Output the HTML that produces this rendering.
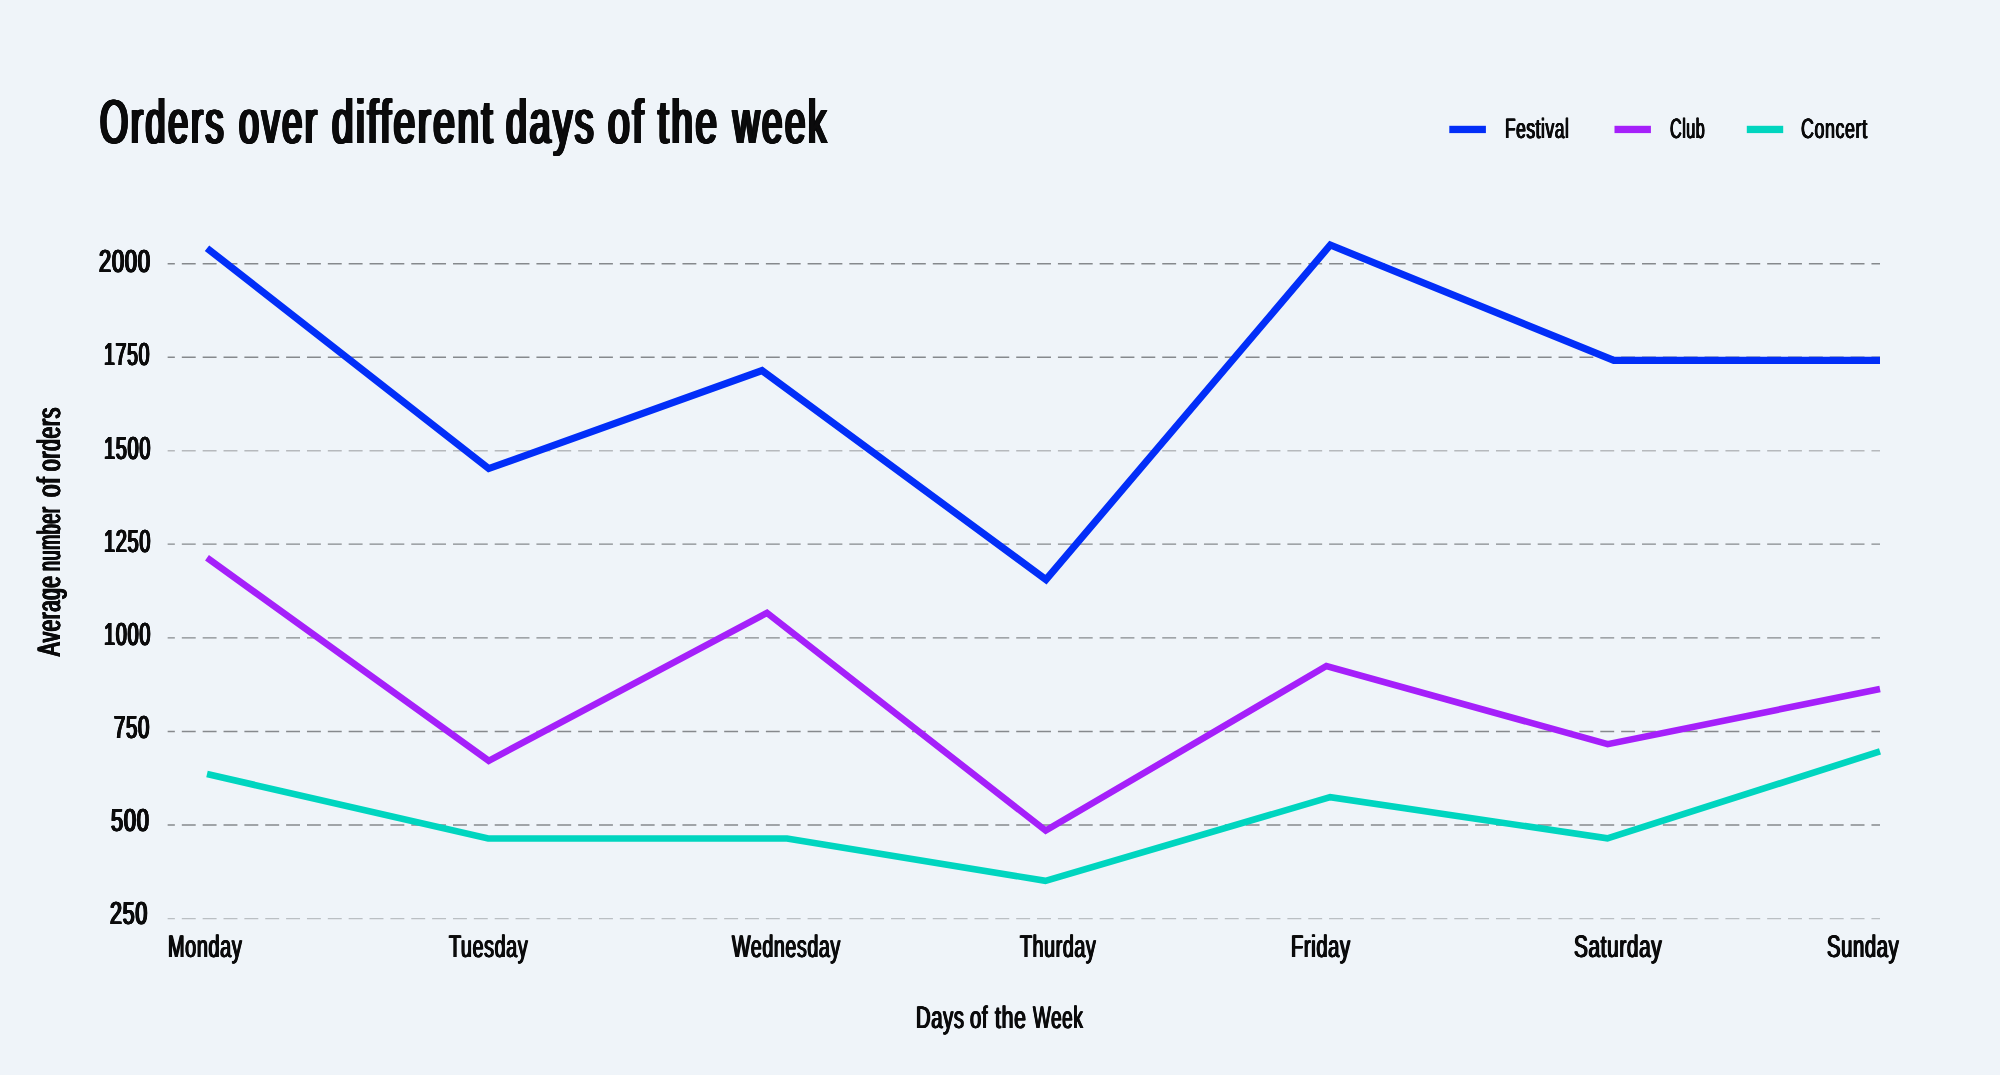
<!DOCTYPE html><html><head><meta charset='utf-8'><title>Orders over different days of the week</title><style>
html,body{margin:0;padding:0;}
body{width:2000px;height:1075px;background:#eff4f9;position:relative;overflow:hidden;font-family:"Liberation Sans",sans-serif;color:#0b0b0c;}
svg{position:absolute;left:0;top:0;}
.t{text-rendering:geometricPrecision;position:absolute;white-space:nowrap;line-height:1;font-weight:bold;transform-origin:0 0;}
h1{margin:0;font:inherit;}
#labels{position:absolute;left:0;top:0;width:2000px;height:1075px;will-change:transform;}

#tw1{left:100.25px;top:91.92px;font-size:62px;transform:scaleX(0.5848);font-weight:normal;letter-spacing:4.38px;text-shadow:0.5px 0 0 #0b0b0c,-0.5px 0 0 #0b0b0c,1.0px 0 0 #0b0b0c,-1.0px 0 0 #0b0b0c,1.5px 0 0 #0b0b0c,-1.5px 0 0 #0b0b0c,2.0px 0 0 #0b0b0c,-2.0px 0 0 #0b0b0c,2.5px 0 0 #0b0b0c,-2.5px 0 0 #0b0b0c;}
#tw2{left:238.80px;top:91.92px;font-size:62px;transform:scaleX(0.5818);font-weight:normal;letter-spacing:4.38px;text-shadow:0.5px 0 0 #0b0b0c,-0.5px 0 0 #0b0b0c,1.0px 0 0 #0b0b0c,-1.0px 0 0 #0b0b0c,1.5px 0 0 #0b0b0c,-1.5px 0 0 #0b0b0c,2.0px 0 0 #0b0b0c,-2.0px 0 0 #0b0b0c,2.5px 0 0 #0b0b0c,-2.5px 0 0 #0b0b0c;}
#tw3{left:331.50px;top:91.92px;font-size:62px;transform:scaleX(0.6218);font-weight:normal;letter-spacing:4.38px;text-shadow:0.5px 0 0 #0b0b0c,-0.5px 0 0 #0b0b0c,1.0px 0 0 #0b0b0c,-1.0px 0 0 #0b0b0c,1.5px 0 0 #0b0b0c,-1.5px 0 0 #0b0b0c,2.0px 0 0 #0b0b0c,-2.0px 0 0 #0b0b0c,2.5px 0 0 #0b0b0c,-2.5px 0 0 #0b0b0c;}
#tw4{left:505.80px;top:91.92px;font-size:62px;transform:scaleX(0.6082);font-weight:normal;letter-spacing:4.38px;text-shadow:0.5px 0 0 #0b0b0c,-0.5px 0 0 #0b0b0c,1.0px 0 0 #0b0b0c,-1.0px 0 0 #0b0b0c,1.5px 0 0 #0b0b0c,-1.5px 0 0 #0b0b0c,2.0px 0 0 #0b0b0c,-2.0px 0 0 #0b0b0c,2.5px 0 0 #0b0b0c,-2.5px 0 0 #0b0b0c;}
#tw5{left:608.30px;top:91.92px;font-size:62px;transform:scaleX(0.6310);font-weight:normal;letter-spacing:4.38px;text-shadow:0.5px 0 0 #0b0b0c,-0.5px 0 0 #0b0b0c,1.0px 0 0 #0b0b0c,-1.0px 0 0 #0b0b0c,1.5px 0 0 #0b0b0c,-1.5px 0 0 #0b0b0c,2.0px 0 0 #0b0b0c,-2.0px 0 0 #0b0b0c,2.5px 0 0 #0b0b0c,-2.5px 0 0 #0b0b0c;}
#tw6{left:657.90px;top:91.92px;font-size:62px;transform:scaleX(0.6206);font-weight:normal;letter-spacing:4.38px;text-shadow:0.5px 0 0 #0b0b0c,-0.5px 0 0 #0b0b0c,1.0px 0 0 #0b0b0c,-1.0px 0 0 #0b0b0c,1.5px 0 0 #0b0b0c,-1.5px 0 0 #0b0b0c,2.0px 0 0 #0b0b0c,-2.0px 0 0 #0b0b0c,2.5px 0 0 #0b0b0c,-2.5px 0 0 #0b0b0c;}
#tw7{left:733.10px;top:91.92px;font-size:62px;transform:scaleX(0.5917);font-weight:normal;letter-spacing:4.38px;text-shadow:0.5px 0 0 #0b0b0c,-0.5px 0 0 #0b0b0c,1.0px 0 0 #0b0b0c,-1.0px 0 0 #0b0b0c,1.5px 0 0 #0b0b0c,-1.5px 0 0 #0b0b0c,2.0px 0 0 #0b0b0c,-2.0px 0 0 #0b0b0c,2.5px 0 0 #0b0b0c,-2.5px 0 0 #0b0b0c;}
#lg1{left:1505.10px;top:115.08px;font-size:27.9px;transform:scaleX(0.6234);font-weight:normal;letter-spacing:0.90px;text-shadow:0.5px 0 0 #0b0b0c,-0.5px 0 0 #0b0b0c,0.9px 0 0 #0b0b0c,-0.9px 0 0 #0b0b0c;}
#lg2{left:1669.60px;top:115.08px;font-size:27.9px;transform:scaleX(0.5795);font-weight:normal;letter-spacing:0.90px;text-shadow:0.5px 0 0 #0b0b0c,-0.5px 0 0 #0b0b0c,0.9px 0 0 #0b0b0c,-0.9px 0 0 #0b0b0c;}
#lg3{left:1801.20px;top:115.08px;font-size:27.9px;transform:scaleX(0.6408);font-weight:normal;letter-spacing:0.90px;text-shadow:0.5px 0 0 #0b0b0c,-0.5px 0 0 #0b0b0c,0.9px 0 0 #0b0b0c,-0.9px 0 0 #0b0b0c;}
#y2000{left:98.80px;top:246.00px;font-size:31.9px;transform:scaleX(0.6858);font-weight:normal;letter-spacing:1.15px;text-shadow:0.5px 0 0 #0b0b0c,-0.5px 0 0 #0b0b0c,1.0px 0 0 #0b0b0c,-1.0px 0 0 #0b0b0c,1.15px 0 0 #0b0b0c,-1.15px 0 0 #0b0b0c;}
#y1750{left:103.60px;top:339.10px;font-size:31.9px;transform:scaleX(0.6114);font-weight:normal;letter-spacing:1.15px;text-shadow:0.5px 0 0 #0b0b0c,-0.5px 0 0 #0b0b0c,1.0px 0 0 #0b0b0c,-1.0px 0 0 #0b0b0c,1.15px 0 0 #0b0b0c,-1.15px 0 0 #0b0b0c;}
#y1500{left:103.60px;top:432.70px;font-size:31.9px;transform:scaleX(0.6242);font-weight:normal;letter-spacing:1.15px;text-shadow:0.5px 0 0 #0b0b0c,-0.5px 0 0 #0b0b0c,1.0px 0 0 #0b0b0c,-1.0px 0 0 #0b0b0c,1.15px 0 0 #0b0b0c,-1.15px 0 0 #0b0b0c;}
#y1250{left:103.60px;top:525.80px;font-size:31.9px;transform:scaleX(0.6242);font-weight:normal;letter-spacing:1.15px;text-shadow:0.5px 0 0 #0b0b0c,-0.5px 0 0 #0b0b0c,1.0px 0 0 #0b0b0c,-1.0px 0 0 #0b0b0c,1.15px 0 0 #0b0b0c,-1.15px 0 0 #0b0b0c;}
#y1000{left:103.60px;top:619.00px;font-size:31.9px;transform:scaleX(0.6242);font-weight:normal;letter-spacing:1.15px;text-shadow:0.5px 0 0 #0b0b0c,-0.5px 0 0 #0b0b0c,1.0px 0 0 #0b0b0c,-1.0px 0 0 #0b0b0c,1.15px 0 0 #0b0b0c,-1.15px 0 0 #0b0b0c;}
#y750{left:114.00px;top:712.10px;font-size:31.9px;transform:scaleX(0.6375);font-weight:normal;letter-spacing:1.15px;text-shadow:0.5px 0 0 #0b0b0c,-0.5px 0 0 #0b0b0c,1.0px 0 0 #0b0b0c,-1.0px 0 0 #0b0b0c,1.15px 0 0 #0b0b0c,-1.15px 0 0 #0b0b0c;}
#y500{left:111.00px;top:805.20px;font-size:31.9px;transform:scaleX(0.6832);font-weight:normal;letter-spacing:1.15px;text-shadow:0.5px 0 0 #0b0b0c,-0.5px 0 0 #0b0b0c,1.0px 0 0 #0b0b0c,-1.0px 0 0 #0b0b0c,1.15px 0 0 #0b0b0c,-1.15px 0 0 #0b0b0c;}
#y250{left:110.00px;top:898.20px;font-size:31.9px;transform:scaleX(0.6715);font-weight:normal;letter-spacing:1.15px;text-shadow:0.5px 0 0 #0b0b0c,-0.5px 0 0 #0b0b0c,1.0px 0 0 #0b0b0c,-1.0px 0 0 #0b0b0c,1.15px 0 0 #0b0b0c,-1.15px 0 0 #0b0b0c;}
#xMon{left:168.00px;top:930.79px;font-size:31.2px;transform:scaleX(0.6361);font-weight:normal;letter-spacing:1.00px;text-shadow:0.5px 0 0 #0b0b0c,-0.5px 0 0 #0b0b0c,1.0px 0 0 #0b0b0c,-1.0px 0 0 #0b0b0c;}
#xTue{left:449.40px;top:930.79px;font-size:31.2px;transform:scaleX(0.6319);font-weight:normal;letter-spacing:1.00px;text-shadow:0.5px 0 0 #0b0b0c,-0.5px 0 0 #0b0b0c,1.0px 0 0 #0b0b0c,-1.0px 0 0 #0b0b0c;}
#xWed{left:732.40px;top:930.79px;font-size:31.2px;transform:scaleX(0.6291);font-weight:normal;letter-spacing:1.00px;text-shadow:0.5px 0 0 #0b0b0c,-0.5px 0 0 #0b0b0c,1.0px 0 0 #0b0b0c,-1.0px 0 0 #0b0b0c;}
#xThu{left:1020.00px;top:930.79px;font-size:31.2px;transform:scaleX(0.6293);font-weight:normal;letter-spacing:1.00px;text-shadow:0.5px 0 0 #0b0b0c,-0.5px 0 0 #0b0b0c,1.0px 0 0 #0b0b0c,-1.0px 0 0 #0b0b0c;}
#xFri{left:1291.20px;top:930.79px;font-size:31.2px;transform:scaleX(0.6441);font-weight:normal;letter-spacing:1.00px;text-shadow:0.5px 0 0 #0b0b0c,-0.5px 0 0 #0b0b0c,1.0px 0 0 #0b0b0c,-1.0px 0 0 #0b0b0c;}
#xSat{left:1573.60px;top:930.79px;font-size:31.2px;transform:scaleX(0.6648);font-weight:normal;letter-spacing:1.00px;text-shadow:0.5px 0 0 #0b0b0c,-0.5px 0 0 #0b0b0c,1.0px 0 0 #0b0b0c,-1.0px 0 0 #0b0b0c;}
#xSun{left:1827.00px;top:930.79px;font-size:31.2px;transform:scaleX(0.6473);font-weight:normal;letter-spacing:1.00px;text-shadow:0.5px 0 0 #0b0b0c,-0.5px 0 0 #0b0b0c,1.0px 0 0 #0b0b0c,-1.0px 0 0 #0b0b0c;}
#xw1{left:915.80px;top:1001.59px;font-size:31.2px;transform:scaleX(0.6478);font-weight:normal;letter-spacing:1.00px;text-shadow:0.5px 0 0 #0b0b0c,-0.5px 0 0 #0b0b0c,1.0px 0 0 #0b0b0c,-1.0px 0 0 #0b0b0c;}
#xw2{left:970.35px;top:1001.59px;font-size:31.2px;transform:scaleX(0.6457);font-weight:normal;letter-spacing:1.00px;text-shadow:0.5px 0 0 #0b0b0c,-0.5px 0 0 #0b0b0c,1.0px 0 0 #0b0b0c,-1.0px 0 0 #0b0b0c;}
#xw3{left:995.25px;top:1001.59px;font-size:31.2px;transform:scaleX(0.6827);font-weight:normal;letter-spacing:1.00px;text-shadow:0.5px 0 0 #0b0b0c,-0.5px 0 0 #0b0b0c,1.0px 0 0 #0b0b0c,-1.0px 0 0 #0b0b0c;}
#xw4{left:1032.60px;top:1001.59px;font-size:31.2px;transform:scaleX(0.6060);font-weight:normal;letter-spacing:1.00px;text-shadow:0.5px 0 0 #0b0b0c,-0.5px 0 0 #0b0b0c,1.0px 0 0 #0b0b0c,-1.0px 0 0 #0b0b0c;}
#yw1{left:60.40px;top:656.40px;font-size:32.4px;transform:rotate(-90deg) scaleX(0.6262) translateY(-27.43px);font-weight:normal;letter-spacing:1.20px;text-shadow:0.5px 0 0 #0b0b0c,-0.5px 0 0 #0b0b0c,1.0px 0 0 #0b0b0c,-1.0px 0 0 #0b0b0c,1.2px 0 0 #0b0b0c,-1.2px 0 0 #0b0b0c;}
#yw2{left:60.40px;top:570.60px;font-size:32.4px;transform:rotate(-90deg) scaleX(0.5517) translateY(-27.43px);font-weight:normal;letter-spacing:1.20px;text-shadow:0.5px 0 0 #0b0b0c,-0.5px 0 0 #0b0b0c,1.0px 0 0 #0b0b0c,-1.0px 0 0 #0b0b0c,1.2px 0 0 #0b0b0c,-1.2px 0 0 #0b0b0c;}
#yw3{left:60.40px;top:497.30px;font-size:32.4px;transform:rotate(-90deg) scaleX(0.6926) translateY(-27.43px);font-weight:normal;letter-spacing:1.20px;text-shadow:0.5px 0 0 #0b0b0c,-0.5px 0 0 #0b0b0c,1.0px 0 0 #0b0b0c,-1.0px 0 0 #0b0b0c,1.2px 0 0 #0b0b0c,-1.2px 0 0 #0b0b0c;}
#yw4{left:60.40px;top:471.00px;font-size:32.4px;transform:rotate(-90deg) scaleX(0.6465) translateY(-27.43px);font-weight:normal;letter-spacing:1.20px;text-shadow:0.5px 0 0 #0b0b0c,-0.5px 0 0 #0b0b0c,1.0px 0 0 #0b0b0c,-1.0px 0 0 #0b0b0c,1.2px 0 0 #0b0b0c,-1.2px 0 0 #0b0b0c;}
</style></head><body>
<svg width='2000' height='1075' viewBox='0 0 2000 1075'><line x1='167.65' y1='263.7' x2='1880' y2='263.7' stroke='#86898d' stroke-opacity='1' stroke-width='1.4' stroke-dasharray='13.9 6.96' stroke-dashoffset='6.7'/><line x1='167.65' y1='357.3' x2='1880' y2='357.3' stroke='#86898d' stroke-opacity='1' stroke-width='1.4' stroke-dasharray='13.9 6.96' stroke-dashoffset='6.7'/><line x1='167.65' y1='450.7' x2='1880' y2='450.7' stroke='#86898d' stroke-opacity='0.55' stroke-width='1.4' stroke-dasharray='13.9 6.96' stroke-dashoffset='6.7'/><line x1='167.65' y1='544.1' x2='1880' y2='544.1' stroke='#86898d' stroke-opacity='1' stroke-width='1.4' stroke-dasharray='13.9 6.96' stroke-dashoffset='6.7'/><line x1='167.65' y1='637.9' x2='1880' y2='637.9' stroke='#86898d' stroke-opacity='1' stroke-width='1.4' stroke-dasharray='13.9 6.96' stroke-dashoffset='6.7'/><line x1='167.65' y1='731.5' x2='1880' y2='731.5' stroke='#86898d' stroke-opacity='1' stroke-width='1.4' stroke-dasharray='13.9 6.96' stroke-dashoffset='6.7'/><line x1='167.65' y1='825.0' x2='1880' y2='825.0' stroke='#86898d' stroke-opacity='1' stroke-width='1.4' stroke-dasharray='13.9 6.96' stroke-dashoffset='6.7'/><line x1='167.65' y1='918.6' x2='1880' y2='918.6' stroke='#86898d' stroke-opacity='0.5' stroke-width='1.4' stroke-dasharray='13.9 6.96' stroke-dashoffset='6.7'/><polyline points='207,774.0 488.2,838.5 787,838.5 1045.4,880.8 1330.2,797.2 1607.4,838.3 1880,751.4' fill='none' stroke='#00d5bf' stroke-width='6.6' stroke-linejoin='miter' stroke-miterlimit='10'/><polyline points='207,557.8 488.7,760.8 767,612.9 1045.7,830.6 1326.4,666.0 1607.7,744.2 1880,689.0' fill='none' stroke='#a520fa' stroke-width='6.6' stroke-linejoin='miter' stroke-miterlimit='10'/><polyline points='207,248.2 488.7,468.6 762,370.6 1046,579.6 1330.3,245.0 1613.8,360.4 1880,360.4' fill='none' stroke='#022ef8' stroke-width='7.1' stroke-linejoin='miter' stroke-miterlimit='10'/><rect x='1449.3' y='125.8' width='36.6' height='7.3' fill='#022ef8'/><rect x='1614.5' y='125.8' width='36.4' height='7.3' fill='#a520fa'/><rect x='1746.8' y='125.8' width='36.4' height='7.3' fill='#00d5bf'/></svg>
<div id='labels'><h1 id='title'><span class='t' id='tw1'>Orders</span> <span class='t' id='tw2'>over</span> <span class='t' id='tw3'>different</span> <span class='t' id='tw4'>days</span> <span class='t' id='tw5'>of</span> <span class='t' id='tw6'>the</span> <span class='t' id='tw7'>week</span></h1><div id='legend'><span class='t' id='lg1'>Festival</span><span class='t' id='lg2'>Club</span><span class='t' id='lg3'>Concert</span></div><div id='yticks'><span class='t' id='y2000'>2000</span><span class='t' id='y1750'>1750</span><span class='t' id='y1500'>1500</span><span class='t' id='y1250'>1250</span><span class='t' id='y1000'>1000</span><span class='t' id='y750'>750</span><span class='t' id='y500'>500</span><span class='t' id='y250'>250</span></div><div id='xticks'><span class='t' id='xMon'>Monday</span><span class='t' id='xTue'>Tuesday</span><span class='t' id='xWed'>Wednesday</span><span class='t' id='xThu'>Thurday</span><span class='t' id='xFri'>Friday</span><span class='t' id='xSat'>Saturday</span><span class='t' id='xSun'>Sunday</span></div><div id='axis-titles'><div id='xt'><span class='t' id='xw1'>Days</span> <span class='t' id='xw2'>of</span> <span class='t' id='xw3'>the</span> <span class='t' id='xw4'>Week</span></div><div id='yt'><span class='t' id='yw1'>Average</span> <span class='t' id='yw2'>number</span> <span class='t' id='yw3'>of</span> <span class='t' id='yw4'>orders</span></div></div></div>
</body></html>
